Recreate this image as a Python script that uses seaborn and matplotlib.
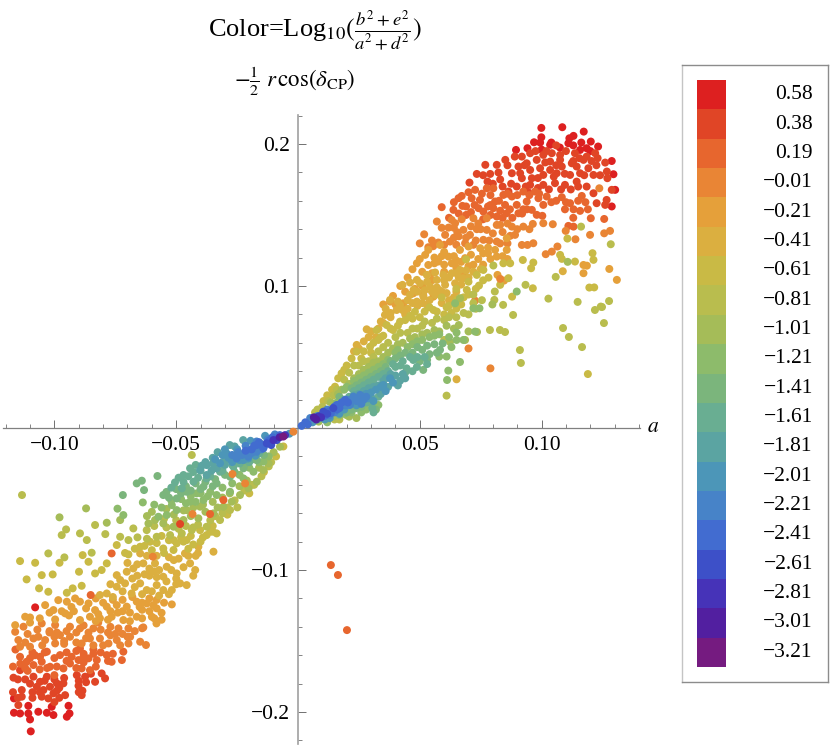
import matplotlib
matplotlib.use("Agg")
import matplotlib.pyplot as plt
import seaborn as sns
import pandas as pd
import numpy as np
from matplotlib.colors import ListedColormap
from matplotlib.ticker import FixedLocator, NullFormatter

band_labels = ["0.58", "0.38", "0.19", "\u22120.01", "\u22120.21", "\u22120.41", "\u22120.61", "\u22120.81", "\u22121.01", "\u22121.21",
               "\u22121.41", "\u22121.61", "\u22121.81", "\u22122.01", "\u22122.21", "\u22122.41", "\u22122.61", "\u22122.81", "\u22123.01", "\u22123.21"]
band_colors = ["#DD2020", "#E04526", "#E7662E", "#E98535", "#E5A03A", "#DBAF40", "#C9BA45", "#B9BD4E", "#A5BC58", "#8DBB6B",
               "#7BB57C", "#69AE92", "#5BA4A2", "#4C96B8", "#4783C8", "#426CD0", "#3D50C8", "#4633B8", "#521FA0", "#751B80"]

pts_058 = [(.0999,.2113),(.1085,.2118),(.1173,.2087),(.1131,.2057),(.1114,.204),(.0999,.2047),(.0969,.2012),(.0994,.201),(.1163,.201),(.1202,.2017),
 (.1232,.1982),(.0895,.1958),(.0942,.197),(.1035,.1994),(.111,.2005),(.1158,.1958),(.1185,.197),(.1288,.188),(.1295,.1787),(.1302,.1677),(.1288,.156),
 (.1040,.2010),(.1200,.1950),(.1130,.1990),(.1000,.1960),(.1075,.1975),
 (-.1097,-.2136),(-.1079,-.1263),(-.1166,-.1904),(-.0942,-.1956),(-.0938,-.2010),(-.0949,-.2033),(-.1107,-.1956),(-.1100,-.2052),(-.1166,-.2005),(-.1141,-.2010),
 (-.1107,-.2010),(-.1031,-.2005),(-.1004,-.2021),(-.1011,-.1963),(-.1066,-.1998)]
pts_038 = [(.0769,.1853),(.0816,.1853),(.0851,.1888),(.0890,.1911),(.0919,.1911),(.0953,.1935),(.1007,.1923),(.1042,.1935),(.1076,.1923),(.1137,.1935),
 (.1185,.1911),(.1220,.1935),(.1172,.1888),(.1124,.1864),(.1076,.1888),(.1035,.1876),(.0980,.1888),(.0939,.1864),(.0905,.1841),(.0878,.1794),(.0912,.1794),
 (.0953,.1817),(.0994,.1829),(.1035,.1817),(.1083,.1841),(.1144,.1841),(.1192,.1829),(.1213,.1782),(.1158,.1794),(.1117,.1782),(.1062,.1794),(.1007,.1782),
 (.0960,.1759),(.0919,.1759),(.1261,.1869),(.1268,.1806),(.1270,.1759),(.0734,.1789),(.0789,.1789),(.0823,.1799),(.0704,.1728),(.0778,.1735),(.1288,.1677),
 (.1267,.1606),(.1261,.1571),(.1226,.1583),(.1213,.1653),(.1185,.1700),(.1144,.1735),(.1096,.1712),(.1055,.1724),(.1007,.1712),(.0953,.1712),(.0898,.1700),(.0864,.1665),
 (.0830,.1750),(.0860,.1850),(.0875,.1720),(.0930,.1850),(.0935,.1700),(.0975,.1950),(.0985,.1760),(.1015,.1870),(.1020,.1950),(.1050,.1770),(.1060,.1850),(.1060,.1990),
 (.1095,.1790),(.1100,.1950),(.1130,.1880),(.1155,.1900),(.1175,.1780),(.1205,.1880),(.1225,.1850),(.1240,.1780),(.1230,.1900),(.1150,.1700),(.1120,.1680),(.1080,.1680),
 (.1030,.1680),(.0985,.1690),(.0945,.1660),(.0840,.1700),(.0760,.1780),(.0800,.1720),
 (-.1134,-.1845),(-.1134,-.1892),(-.1148,-.1951),(-.1072,-.1822),(-.1045,-.1845),(-.1052,-.1892),(-.1018,-.1822),(-.1004,-.1869),(-.1025,-.1904),(-.0956,-.1881),
 (-.0963,-.1798),(-.0990,-.1798),(-.0888,-.1881),(-.0901,-.1815),(-.1086,-.1751),(-.1031,-.1751),(-.1059,-.1787),(-.1141,-.1705),(-.1168,-.1758),(-.0908,-.1740),
 (-.0874,-.1751),(-.0833,-.1787),(-.0792,-.1763),(-.0806,-.1728),(-.0885,-.1850),(-.0990,-.1850),
 (-.1100,-.1800),(-.1090,-.1860),(-.1060,-.1860),(-.1040,-.1780),(-.1000,-.1770),(-.0980,-.1830),(-.0960,-.1760),(-.0900,-.1780),(-.0870,-.1790),(-.0900,-.1860),(-.0850,-.1730),
 (-.1120,-.1770),(-.1150,-.1770),(-.1170,-.1860),(-.1150,-.1900),(-.1090,-.1900),(-.1000,-.1930),(-.0980,-.1900)]
pts_019 = [(.0672,.1634),(.0659,.1618),(.0727,.1677),(.0713,.1618),(.0775,.1688),(.0802,.1688),(.0747,.1606),(.0809,.1595),(.0843,.1641),(.0878,.1630),(.0925,.1665),
 (.0973,.1665),(.1021,.1630),(.1083,.1625),(.1117,.1583),(.1165,.1634),(.1096,.1540),(.1131,.1540),(.1158,.1529),(.1190,.1540),(.0939,.1595),(.0987,.1618),(.1007,.1571),
 (.0898,.1571),(.0850,.1571),(.0802,.1548),(.0741,.1548),(.0675,.1564),(.0638,.1536),(.0590,.1555),(.0761,.1524),(.0857,.1512),(.0905,.1512),(.0960,.1536),(.0980,.1501),
 (.1003,.1494),(.0816,.1489),(.1257,.1472),(.1202,.1477),(.1131,.1418),(.1110,.1423),(.0690,.1500),(.0880,.1480),(.0780,.1560),(.0925,.1540),
 (.0690,.1560),(.0700,.1660),(.0755,.1650),(.0790,.1640),(.0825,.1600),(.0860,.1650),(.0900,.1640),(.0950,.1640),(.0990,.1650),(.1040,.1590),(.1060,.1600),(.1100,.1590),(.1150,.1600),
 (.0620,.1480),(.0660,.1510),(.0710,.1520),(.0725,.1570),(.0790,.1500),(.0830,.1530),(.0870,.1540),(.0920,.1510),(.0940,.1540),(.0790,.1570),(.0840,.1480),(.0760,.1470),(.0640,.1590),(.1130,.1480),(.1180,.1590),
 (-.1141,-.1611),(-.1114,-.1646),(-.1086,-.1669),(-.1052,-.1646),(-.1018,-.1681),(-.0963,-.1693),(-.0936,-.1658),(-.0929,-.1611),(-.0977,-.1599),(-.1031,-.1575),(-.1059,-.1611),
 (-.0888,-.1693),(-.0854,-.1705),(-.0901,-.1634),(-.0860,-.1622),(-.0826,-.1634),(-.0785,-.1599),(-.0765,-.1646),(-.0717,-.1575),(-.0723,-.1634),(-.0895,-.1552),(-.1120,-.1690),
 (-.1000,-.1740),(-.0880,-.1590),(-.0840,-.1560),(-.1090,-.1580),(.0135,-.0965),(.0164,-.1035),(.0201,-.1423),
 (-.1160,-.1560),(-.1100,-.1620),(-.1080,-.1600),(-.1040,-.1580),(-.1000,-.1620),(-.0950,-.1580),(-.0950,-.1640),(-.0910,-.1570),(-.0880,-.1610),(-.0840,-.1590),(-.0810,-.1580),
 (-.0780,-.1640),(-.0760,-.1590),(-.0830,-.1680),(-.0880,-.1650),(-.0910,-.1690),(-.0990,-.1680),(-.1030,-.1690),(-.1060,-.1700),(-.1110,-.1710),(-.1170,-.1680),(-.1140,-.1660)]
pts_m001 = [(.0570,.1454),(.0631,.1465),(.0672,.1470),(.0720,.1477),(.0775,.1477),(.0618,.1411),(.0645,.1442),(.0679,.1395),(.0734,.1400),(.0775,.1395),(.0816,.1430),
 (.0878,.1418),(.0925,.1418),(.0964,.1437),(.1007,.1442),(.1046,.1435),(.1099,.1388),(.1139,.1329),(.1199,.1360),(.1257,.1371),(.1281,.1388),(.0518,.1364),(.0604,.1360),
 (.0654,.1378),(.0706,.1360),(.0761,.1325),(.0535,.1273),(.0576,.1306),(.0624,.1313),(.0686,.1301),(.0816,.1313),(.0871,.1353),(.0891,.1360),(.0919,.1289),(.0942,.1289),
 (.0966,.1301),(.1065,.1278),(.1042,.1242),(.1017,.1224),(.1237,.1688),(.0727,.0897),(.0840,.1380),(.0740,.1440),
 (.0590,.1410),(.0640,.1410),(.0660,.1350),(.0710,.1420),(.0750,.1400),(.0800,.1370),(.0830,.1430),(.0860,.1440),(.0900,.1400),(.0950,.1400),(.0550,.1320),(.0600,.1290),(.0640,.1340),
 (.0690,.1340),(.0730,.1320),(.0785,.1320),(.0830,.1300),(.0860,.1300),(.0500,.1300),(.0555,.1280),(.0650,.1290),(.0720,.1290),
 (-.1141,-.1540),(-.1148,-.1493),(-.1086,-.1482),(-.1066,-.1470),(-.1038,-.1493),(-.0997,-.1517),(-.0977,-.1458),(-.0936,-.1470),(-.0888,-.1517),(-.0854,-.1482),(-.0813,-.1482),
 (-.0778,-.1517),(-.0744,-.1493),(-.0689,-.1470),(-.0696,-.1517),(-.0648,-.1505),(-.0624,-.1528),(-.1161,-.1435),(-.1127,-.1399),(-.1052,-.1376),(-.0997,-.1387),(-.0936,-.1399),
 (-.0895,-.1411),(-.0840,-.1411),(-.0737,-.1411),(-.0696,-.1411),(-.0635,-.1404),(-.0780,-.1440),(-.1020,-.1430),(-.0960,-.1500),(-.0820,-.1370),
 (-.1110,-.1450),(-.1070,-.1420),(-.1020,-.1440),(-.0990,-.1440),(-.0950,-.1430),(-.0910,-.1440),(-.0880,-.1390),(-.0860,-.1440),(-.0810,-.1420),(-.0770,-.1400),(-.0750,-.1450),(-.0720,-.1450),
 (-.0670,-.1430),(-.0640,-.1410),(-.1120,-.1510),(-.1050,-.1530),(-.1000,-.1470),(-.0960,-.1520),(-.0910,-.1510),(-.0870,-.1480),(-.0840,-.1530),(-.0800,-.1530),(-.0770,-.1460),(-.0730,-.1530),(-.0700,-.1470),(-.1100,-.1540)]
pts_m021 = [(.0535,.1254),(.0522,.1219),(.0583,.1289),(.0618,.1207),(.0665,.1254),(.0700,.1278),(.0748,.1266),(.0857,.1336),(.0809,.1254),(.0488,.1160),(.0470,.1118),(.0535,.1148),
 (.0576,.1172),(.0631,.1160),(.0686,.1196),(.0740,.1190),(.0816,.1207),(.0857,.1254),(.0780,.1230),(.0600,.1240),(.0560,.1200),(.0650,.1130),(.0720,.1150),(.0819,.1078),(.0846,.1038),
 (.1309,.1043),(.1278,.1120),(.1172,.1090),(.1172,.1148),(.1186,.1143),(.0473,.0948),(.0514,.0937),(.0556,.0925),(.0378,.0890),(.0432,.0878),(.0510,.1000),(.0600,.1100),(.0680,.1090),
 (.0500,.1190),(.0560,.1160),(.0590,.1210),(.0640,.1210),(.0670,.1170),(.0710,.1220),(.0760,.1230),(.0790,.1190),(.0840,.1210),(.0860,.1190),(.0550,.1090),(.0450,.1060),(.0510,.1100),
 (.0600,.1150),(.0650,.1180),(.0700,.1140),(.0760,.1150),(.0420,.1000),(.0440,.0960),(.0390,.0930),(.0350,.0870),(.0400,.0870),(.0480,.0980),(.0550,.1040),(.0780,.1270),
 (-.1161,-.1388),(-.1120,-.1329),(-.1100,-.1334),(-.0997,-.1348),(-.0956,-.1305),(-.0895,-.1352),(-.0854,-.1329),(-.0813,-.1340),(-.0765,-.1329),(-.0717,-.1352),(-.0662,-.1329),
 (-.0600,-.1329),(-.0581,-.1376),(-.0560,-.1301),(-.0518,-.1242),(-.0915,-.1200),(-.0895,-.1223),(-.0860,-.1235),(-.0833,-.1282),(-.0785,-.1258),(-.0744,-.1247),(-.0703,-.1258),
 (-.0662,-.1223),(-.0621,-.1235),(-.0594,-.1247),(-.1038,-.1247),(-.1004,-.1282),(-.0949,-.1223),(-.0984,-.1212),(-.0920,-.1290),(-.0720,-.1290),(-.0640,-.1280),(-.0580,-.1210),
 (-.0760,-.1210),(-.0720,-.1210),(-.0680,-.1190),(-.0640,-.1230),(-.0610,-.1200),(-.0580,-.1270),(-.0550,-.1230),(-.0830,-.1200),(-.0800,-.1230),(-.0870,-.1270),(-.0820,-.1310),(-.0770,-.1290),
 (-.0740,-.1300),(-.0690,-.1300),(-.0650,-.1260),(-.0610,-.1290),(-.0560,-.1350),(-.0930,-.1260),(-.0970,-.1290),(-.1020,-.1300),(-.1060,-.1340),(-.0940,-.1320),(-.0780,-.1350),(-.0690,-.1360),
 (-.0640,-.1340),(-.0590,-.1340),(-.0830,-.1360),(-.1100,-.1370)]
pts_m041 = [(.0474,.0972),(.0515,.0925),(.0542,.0996),(.0501,.1019),(.0460,.0937),(.0488,.0890),(.0529,.0867),(.0378,.0902),(.0419,.0867),(.0570,.1043),(.0597,.1078),(.0631,.1090),(.0665,.1113),
 (.0563,.0937),(.0604,.1008),(.0645,.1019),(.0679,.1055),(.0429,.1008),(.0460,.1024),(.0488,.1043),(.0529,.1078),(.0563,.1095),(.1087,.1104),(.0357,.0796),(.0405,.0831),(.0282,.0695),
 (.0241,.0585),(.0320,.0640),(.0651,.0343),(.0440,.0800),(.0380,.0780),(.0470,.0880),(.0580,.0970),(.0330,.0700),(.0270,.0610),(.0230,.0540),(.0650,.0960),(.0620,.0900),(.0590,.0880),
 (.0340,.0750),(.0300,.0680),(.0360,.0840),(.0380,.0810),(.0410,.0890),(.0450,.0900),(.0490,.0960),(.0520,.0970),(.0530,.1030),(.0570,.0990),(.0600,.1040),(.0620,.1060),(.0660,.1060),
 (.0650,.1090),(.0690,.1110),(.0720,.1100),(.0700,.1060),(.0610,.0950),(.0640,.0920),(.0670,.1010),(.0550,.0960),(.0510,.0880),(.0450,.0840),(.0250,.0560),(.0290,.0640),(.0350,.0740),
 (.0540,.0900),(.0590,.0960),(.0490,.0860),(.0430,.0830),(.0750,.1120),
 (-.0744,-.1118),(-.0710,-.1094),(-.0683,-.1165),(-.0648,-.1094),(-.0621,-.1141),(-.0580,-.1106),(-.0553,-.1141),(-.0518,-.1141),(-.0676,-.0989),(-.0635,-.0953),(-.0587,-.0953),(-.0539,-.0977),
 (-.0553,-.1047),(-.0484,-.1094),(-.0457,-.1106),(-.0498,-.1024),(-.0443,-.0953),(-.0422,-.1000),(-.0744,-.1036),(-.0703,-.1012),(-.0648,-.0883),(-.0347,-.0871),(-.0409,-.0836),(-.0464,-.0883),
 (-.0785,-.1165),(-.0813,-.1176),(-.0610,-.1040),(-.0660,-.1040),(-.0510,-.0930),(-.0590,-.1010),(-.0420,-.0900),(-.0760,-.1190),
 (-.0620,-.0900),(-.0580,-.0900),(-.0530,-.0910),(-.0490,-.0920),(-.0450,-.0900),(-.0410,-.0880),(-.0700,-.0950),(-.0660,-.0960),(-.0610,-.0990),(-.0570,-.1000),(-.0520,-.1000),(-.0470,-.0980),
 (-.0430,-.1040),(-.0680,-.1060),(-.0630,-.1030),(-.0580,-.1050),(-.0540,-.1080),(-.0500,-.1060),(-.0730,-.1070),(-.0670,-.1120),(-.0600,-.1150),(-.0570,-.1180),(-.0530,-.1170),(-.0720,-.1150),
 (-.0640,-.1170),(-.0770,-.1100),(-.0500,-.1100)]
pts_m061 = [(.0323,.0690),(.0364,.0725),(.0419,.0749),(.0480,.0819),(.0556,.0831),(.0650,.0840),(.0241,.0538),(.0296,.0573),(.0330,.0620),(.0179,.0385),(.0152,.0291),(.0200,.0440),(.0260,.0490),
 (.0300,.0530),(.0340,.0640),(.0390,.0690),(.0440,.0760),(.0500,.0780),(.0600,.0800),(.1190,.0380),(.0923,.1183),(.0957,.1125),(.0966,.1165),(.1076,.1219),(.1083,.1191),(.1137,.1172),(.1209,.1231),
 (.1213,.1184),(.1106,.1334),(.1196,.0989),(.0843,.1160),(.0871,.1160),(.0830,.1008),(.0864,.1055),(.0743,.1003),(.0782,.1059),(.0761,.1113),(.0734,.1078),(.0693,.0972),(.0690,.1188),(.0964,.0984),(.0879,.0925),
 (.0650,.0980),(.0590,.0920),(.0700,.1030),(.0620,.0860),(.1216,.0990),
 (.0270,.0540),(.0310,.0600),(.0350,.0650),(.0380,.0700),(.0410,.0720),(.0460,.0790),(.0470,.0770),(.0520,.0820),(.0540,.0850),(.0570,.0820),(.0610,.0850),(.0630,.0810),(.0670,.0870),(.0700,.0940),
 (.0730,.0980),(.0680,.0920),(.0650,.0900),(.0760,.1040),(.0220,.0490),(.0190,.0410),(.0165,.0350),(.0140,.0270),(.0120,.0230),(.0105,.0190),
 (-.1141,-.0937),(-.1079,-.0949),(-.1114,-.1066),(-.1063,-.1129),(-.1025,-.1153),(-.1052,-.1036),(-.1007,-.1031),(-.0949,-.1160),(-.0925,-.1129),(-.0888,-.1111),(-.0833,-.1024),(-.0806,-.1000),(-.0785,-.0953),
 (-.0979,-.0949),(-.0899,-.1012),(-.0884,-.0895),(-.0860,-.0942),(-.0648,-.0836),(-.0607,-.0801),(-.0553,-.0848),(-.0511,-.0859),(-.0498,-.0812),(-.0457,-.0789),(-.0334,-.0742),(-.0375,-.0754),(-.0402,-.0719),
 (-.0744,-.0824),(-.0696,-.0890),(-.0430,-.0820),(-.0350,-.0690),(-.0290,-.0610),(-.0200,-.0460),(-.0140,-.0310),(-.0060,-.0130),(-.0090,-.0200),
 (-.0580,-.0810),(-.0530,-.0790),(-.0480,-.0770),(-.0440,-.0760),(-.0390,-.0770),(-.0360,-.0730),(-.0560,-.0760),(-.0510,-.0790),(-.0470,-.0800),(-.0630,-.0830),(-.0670,-.0850),(-.0600,-.0860),(-.0550,-.0880),
 (-.0350,-.0730),(-.0400,-.0800),(-.0450,-.0850),(-.0710,-.0880)]
pts_m081 = [(.0146,.0230),(.0190,.0340),(.0230,.0440),(.0270,.0470),(.0310,.0500),(.0350,.0570),(.0400,.0640),(.0450,.0670),(.0490,.0700),(.0550,.0740),(.0600,.0760),(.0650,.0780),(.0700,.0800),(.0730,.0840),(.0600,.0620),
 (.0100,.0150),(.0070,.0110),(.0125,.0190),(.0610,.0228),(.0915,.0458),(.0911,.0549),(.1112,.0641),(.1088,.0704),(.1166,.0570),(.1256,.0739),(.1219,.0831),(.1248,.0852),(.1277,.0894),(.1284,.1294),(.1162,.1418),
 (.1058,.1064),(.1028,.0911),(.1148,.0888),(.1243,.0855),(.0806,.0902),(.0842,.0867),(.0808,.0961),(.0934,.1008),(.0802,.1144),(.0883,.0796),(.0850,.0676),(.0829,.0690),(.0788,.0690),(.0720,.0940),
 (.0210,.0390),(.0250,.0440),(.0290,.0470),(.0330,.0540),(.0370,.0600),(.0420,.0670),(.0470,.0700),(.0520,.0750),(.0570,.0770),(.0620,.0780),(.0680,.0810),(.0720,.0880),(.0755,.0900),(.0510,.0720),(.0160,.0270),
 (.0080,.0130),(.0090,.0060),(.0170,.0060),(.0200,.0090),(.0150,.0060),
 (-.1133,-.0472),(-.0970,-.0754),(-.0952,-.0714),(-.0895,-.0742),(-.0867,-.0789),(-.1025,-.0883),(-.0959,-.0911),(-.0847,-.0878),(-.0791,-.0747),(-.0730,-.0766),(-.0696,-.0789),(-.0659,-.0770),(-.0621,-.0719),
 (-.0580,-.0766),(-.0525,-.0754),(-.0477,-.0742),(-.0436,-.0719),(-.0375,-.0695),(-.0320,-.0648),(-.0279,-.0578),(-.0249,-.0559),(-.0676,-.0707),(-.0833,-.0683),(-.0436,-.0190),(-.0180,-.0400),(-.0120,-.0270),
 (-.0590,-.0690),(-.0550,-.0640),(-.0500,-.0650),(-.0460,-.0690),(-.0410,-.0680),(-.0360,-.0650),(-.0310,-.0600),(-.0260,-.0510),(-.0220,-.0440),(-.0190,-.0400),(-.0150,-.0340),(-.0110,-.0240),(-.0540,-.0700),
 (-.0490,-.0710),(-.0430,-.0700),(-.0340,-.0620),(-.0290,-.0560),(-.0620,-.0780)]
pts_m101 = [(.0135,.0180),(.0165,.0240),(.0210,.0310),(.0250,.0380),(.0290,.0430),(.0330,.0470),(.0370,.0530),(.0410,.0590),(.0460,.0630),(.0510,.0660),(.0560,.0690),(.0610,.0720),(.0660,.0725),(.0145,.0080),(.0120,.0060),
 (.0085,.0045),(.1107,.1170),(.0735,.0676),(.0624,.0606),(.0686,.0620),(.0665,.0914),(.0798,.0870),
 (.0230,.0350),(.0270,.0410),(.0310,.0460),(.0350,.0500),(.0390,.0560),(.0430,.0600),(.0480,.0640),(.0530,.0670),(.0580,.0680),(.0640,.0700),(.0700,.0680),(.0115,.0120),(.0180,.0270),(.0240,.0070),(.0210,.0080),
 (-.0979,-.0629),(-.0870,-.0566),(-.0785,-.0667),(-.0730,-.0648),(-.0614,-.0672),(-.0587,-.0648),(-.0553,-.0672),(-.0511,-.0695),(-.0470,-.0648),(-.0409,-.0636),(-.0347,-.0601),(-.0402,-.0554),(-.0457,-.0578),
 (-.0306,-.0554),(-.0272,-.0519),(-.0238,-.0472),(-.0203,-.0425),(-.0169,-.0378),(-.0142,-.0296),(-.0121,-.0249),(-.0074,-.0132),
 (-.0600,-.0590),(-.0540,-.0570),(-.0510,-.0610),(-.0470,-.0580),(-.0430,-.0560),(-.0390,-.0540),(-.0350,-.0520),(-.0310,-.0490),(-.0280,-.0460),(-.0240,-.0410),(-.0210,-.0370),(-.0160,-.0280),(-.0130,-.0230),
 (-.0100,-.0170),(-.0440,-.0620),(-.0380,-.0590),(-.0330,-.0560),(-.0620,-.0620)]
pts_m121 = [(.0190,.0270),(.0230,.0330),(.0270,.0370),(.0310,.0410),(.0350,.0450),(.0400,.0530),(.0450,.0570),(.0490,.0610),(.0540,.0640),(.0580,.0660),(.0651,.0672),(.0610,.0503),(.0580,.0503),(.0727,.0679),(.0651,.0620),
 (.0679,.0620),(.0170,.0090),(.0120,.0040),(.0617,.0404),(.0330,.0162),(.0612,.0338),(.0665,.0465),(.0645,.0878),(.0720,.0843),(.0745,.0843),(.0898,.0961),
 (.0250,.0350),(.0290,.0390),(.0330,.0430),(.0370,.0480),(.0410,.0550),(.0470,.0590),(.0510,.0620),(.0560,.0650),(.0620,.0640),(.0630,.0570),(.0200,.0290),(.0160,.0180),(.0190,.0100),(.0220,.0110),(.0280,.0130),(.0260,.0110),
 (-.0741,-.0568),(-.0717,-.0613),(-.0637,-.0524),(-.0573,-.0625),(-.0539,-.0613),(-.0498,-.0578),(-.0443,-.0519),(-.0388,-.0507),(-.0334,-.0472),(-.0279,-.0449),(-.0224,-.0355),(-.0183,-.0308),(-.0142,-.0237),(-.0518,-.0543),(-.0416,-.0460),
 (-.0520,-.0510),(-.0480,-.0500),(-.0440,-.0480),(-.0400,-.0460),(-.0360,-.0450),(-.0310,-.0420),(-.0270,-.0390),(-.0240,-.0330),(-.0200,-.0280),(-.0160,-.0240),(-.0120,-.0200),(-.0560,-.0560),(-.0590,-.0540),(-.0460,-.0530),(-.0420,-.0520),(-.0370,-.0480)]
pts_m141 = [(.0220,.0280),(.0260,.0320),(.0300,.0360),(.0340,.0400),(.0380,.0470),(.0420,.0510),(.0470,.0530),(.0510,.0550),(.0540,.0520),(.0583,.0550),(.0594,.0596),(.0514,.0409),(.0200,.0110),(.0240,.0140),
 (.0240,.0300),(.0280,.0340),(.0320,.0380),(.0360,.0430),(.0400,.0490),(.0440,.0530),(.0490,.0570),(.0530,.0580),(.0560,.0590),(.0570,.0530),(.0530,.0480),(.0500,.0470),(.0180,.0130),(.0220,.0130),(.0260,.0150),(.0320,.0130),(.0300,.0170),(.0170,.0220),
 (-.0719,-.0472),(-.0632,-.0437),(-.0577,-.0338),(-.0641,-.0371),(-.0662,-.0390),(-.0553,-.0472),(-.0498,-.0496),(-.0457,-.0449),(-.0388,-.0413),(-.0334,-.0390),(-.0279,-.0343),(-.0224,-.0284),(-.0169,-.0226),
 (-.0500,-.0430),(-.0460,-.0410),(-.0420,-.0390),(-.0380,-.0380),(-.0340,-.0360),(-.0300,-.0330),(-.0260,-.0310),(-.0220,-.0260),(-.0180,-.0220),(-.0540,-.0450),(-.0480,-.0460),(-.0440,-.0440),(-.0400,-.0430),(-.0350,-.0410),(-.0140,-.0190),(-.0530,-.0490)]
pts_m161 = [(.0210,.0220),(.0250,.0280),(.0290,.0320),(.0330,.0360),(.0370,.0400),(.0400,.0430),(.0446,.0420),(.0473,.0479),(.0530,.0450),(.0488,.0430),(.0280,.0180),(.0305,.0140),(.0310,.0110),
 (.0230,.0260),(.0270,.0300),(.0310,.0340),(.0350,.0380),(.0390,.0450),(.0430,.0470),(.0460,.0500),(.0490,.0500),(.0520,.0500),(.0440,.0390),(.0470,.0400),(.0420,.0440),(.0300,.0190),(.0330,.0220),(.0240,.0170),(.0190,.0200),
 (-.0505,-.0383),(-.0470,-.0331),(-.0443,-.0284),(-.0477,-.0425),(-.0429,-.0378),(-.0375,-.0355),(-.0320,-.0308),(-.0265,-.0273),(-.0210,-.0179),(-.0183,-.0143),(-.0156,-.0108),
 (-.0420,-.0260),(-.0400,-.0300),(-.0430,-.0310),(-.0410,-.0350),(-.0360,-.0340),(-.0310,-.0300),(-.0270,-.0260),(-.0470,-.0380),(-.0490,-.0350),(-.0450,-.0340),(-.0240,-.0250),(-.0200,-.0240),(-.0160,-.0180),(-.0520,-.0420)]
pts_m181 = [(.0230,.0230),(.0270,.0260),(.0310,.0290),(.0350,.0330),(.0380,.0380),(.0419,.0333),(.0430,.0380),(.0080,.0060),(.0050,.0050),
 (.0250,.0240),(.0290,.0280),(.0330,.0300),(.0360,.0350),(.0400,.0370),(.0410,.0300),(.0440,.0350),(.0300,.0220),(.0340,.0240),(.0370,.0290),(.0180,.0180),
 (-.0402,-.0296),(-.0375,-.0261),(-.0334,-.0284),(-.0375,-.0331),(-.0293,-.0226),(-.0238,-.0190),(-.0200,-.0160),
 (-.0350,-.0210),(-.0310,-.0240),(-.0350,-.0250),(-.0380,-.0240),(-.0395,-.0265),(-.0355,-.0300),(-.0300,-.0260),(-.0260,-.0130),(-.0330,-.0170),(-.0225,-.0085),(-.0280,-.0120)]
pts_m201 = [(.0200,.0160),(.0240,.0210),(.0280,.0240),(.0320,.0270),(.0350,.0303),(.0378,.0350),(.0289,.0209),(.0100,.0090),(.0060,.0040),(.0170,.0100),
 (.0220,.0190),(.0260,.0220),(.0300,.0250),(.0340,.0290),(.0360,.0260),(.0390,.0320),(.0310,.0190),(.0240,.0160),(.0190,.0130),(.0130,.0070),(.0110,.0060),(.0080,.0085),
 (-.0293,-.0179),(-.0265,-.0214),(-.0320,-.0249),(-.0224,-.0226),(-.0035,-.0040),
 (-.0250,-.0150),(-.0300,-.0150),(-.0285,-.0210),(-.0340,-.0220),(-.0270,-.0240),(-.0240,-.0225),(-.0205,-.0215),(-.0175,-.0195),(-.0310,-.0190),(-.0195,-.0090),(-.0135,-.0055)]
pts_m221 = [(.0175,.0170),(.0215,.0195),(.0255,.0233),(.0227,.0221),(.0270,.0200),(.0213,.0162),(.0260,.0170),(.0120,.0130),
 (.0190,.0180),(.0200,.0200),(.0235,.0205),(.0280,.0220),(.0240,.0190),(.0195,.0160),(.0150,.0110),(.0130,.0090),(.0050,.0070),
 (-.0252,-.0214),(-.0204,-.0202),(-.0169,-.0167),(-.0140,-.0130),
 (-.0230,-.0190),(-.0190,-.0175),(-.0245,-.0170),(-.0215,-.0125),(-.0270,-.0190),(-.0150,-.0150),(-.0170,-.0095),(-.0125,-.0080),(-.0095,-.0045)]
pts_m241 = [(.0140,.0130),(.0159,.0162),(.0193,.0197),(.0125,.0115),(.0170,.0140),(.0030,.0040),(.0015,.0015),(-.0142,-.0143),(-.0120,-.0090),(-.0170,-.0120),
 (.0150,.0150),(.0180,.0180),(.0205,.0180),(.0160,.0130),(.0110,.0085),(.0040,.0025),(.0135,.0105),
 (-.0160,-.0100),(-.0190,-.0150),(-.0130,-.0110),(-.0105,-.0065),(-.0215,-.0160),(-.0155,-.0115),(-.0075,-.0050),(-.0180,-.0125)]
pts_m261 = [(.0104,.0115),(.0120,.0100),(.0145,.0140),(.0090,.0085),(-.0128,-.0108),(-.0087,-.0085),(-.0110,-.0120)]
pts_m281 = [(.0083,.0080),(.0095,.0075),(.0070,.0068),(-.0101,-.0085),(-.0053,-.0050)]
pts_m301 = [(.0075,.0060),(.0065,.0075),(-.0075,-.0065)]
pts_m321 = [(-.0060,-.0060)]

late_a = [.0830,.0700,.0790,-.0596,-.0433,-.0765,-.0484,-.0361,-.0269,-.0306,-.0217,-.0851,-.0019]
late_r = [.1050,.0560,.0420,-.0906,-.0606,-.0883,-.0676,-.0606,-.0324,-.0507,-.0390,-.1176,-.0026]
late_c = [3,3,3,3,3,2,1,2,3,2,3,2,3]

band_points = [pts_058, pts_038, pts_019, pts_m001, pts_m021, pts_m041, pts_m061, pts_m081, pts_m101, pts_m121,
               pts_m141, pts_m161, pts_m181, pts_m201, pts_m221, pts_m241, pts_m261, pts_m281, pts_m301, pts_m321]

x_major = [-0.10, -0.05, 0.05, 0.10]
x_major_labels = ["\u22120.10", "\u22120.05", "0.05", "0.10"]
y_major = [-0.2, -0.1, 0.1, 0.2]
y_major_labels = ["\u22120.2", "\u22120.1", "0.1", "0.2"]

sns.set_style("white")
plt.rcParams["font.family"] = ["Liberation Serif", "DejaVu Serif"]
plt.rcParams["mathtext.fontset"] = "stix"

W, H = 830, 747
fig = plt.figure(figsize=(W / 100, H / 100), dpi=100)
fig.patch.set_facecolor("white")


def rect(x0, y0, x1, y1):
    return [x0 / W, 1 - y1 / H, (x1 - x0) / W, (y1 - y0) / H]


ax = fig.add_axes(rect(3, 115, 640, 744))
ax.patch.set_alpha(0)

rows = [(a, r, i) for i, pts in enumerate(band_points) for a, r in pts]
df = pd.DataFrame(rows, columns=["a", "r", "band"])
late = pd.DataFrame({"a": late_a, "r": late_r, "band": late_c})
palette = {i: c for i, c in enumerate(band_colors)}
sns.scatterplot(data=df, x="a", y="r", hue="band", palette=palette, legend=False, s=33, linewidth=0, ax=ax, clip_on=False, zorder=3)
sns.scatterplot(data=late, x="a", y="r", hue="band", palette=palette, legend=False, s=33, linewidth=0, ax=ax, clip_on=False, zorder=3.1)

ax.set_xlim(-0.1211, 0.1404)
ax.set_ylim(-0.2225, 0.2204)
ax.set_xlabel("")
ax.set_ylabel("")
for s in ["top", "right"]:
    ax.spines[s].set_visible(False)
ax.spines["bottom"].set_position(("data", 0))
ax.spines["left"].set_position(("data", 0))
ax.spines["bottom"].set_color("#808080")
ax.spines["left"].set_color("#a0a0a0")
ax.spines["bottom"].set_linewidth(0.9)
ax.spines["left"].set_linewidth(1.2)
ax.set_xticks(x_major, x_major_labels)
ax.set_yticks(y_major, y_major_labels)
x_minor = [v / 100 for v in range(-12, 15) if v % 5 != 0]
y_minor = [v / 100 for v in range(-22, 23, 2) if v % 10 != 0]
ax.xaxis.set_minor_locator(FixedLocator(x_minor))
ax.yaxis.set_minor_locator(FixedLocator(y_minor))
ax.xaxis.set_minor_formatter(NullFormatter())
ax.yaxis.set_minor_formatter(NullFormatter())
ax.tick_params(which="major", direction="in", length=6, width=0.7, color="#707070", labelsize=15.5, labelcolor="black", bottom=True, left=True)
ax.tick_params(which="minor", direction="in", length=3.2, width=0.6, color="#707070", bottom=True, left=True)
ax.tick_params(axis="x", which="major", pad=6)
ax.tick_params(axis="y", which="major", pad=6)

fig.text(653.5 / W, 1 - 427 / H, "$a$", fontsize=15.5, ha="center", va="center", color="black")
fig.text(295 / W, 1 - 81 / H, r"$-\frac{1}{2}\ r\,\cos(\delta_{\mathrm{CP}})$", fontsize=16.5, ha="center", va="center", color="black")
fig.text(315 / W, 1 - 31 / H, r"Color=Log$_{10}(\frac{b^2+e^2}{a^2+d^2})$", fontsize=19, ha="center", va="center", color="black")

box = fig.add_axes(rect(682, 65, 828, 682))
box.set_xticks([])
box.set_yticks([])
box.set_facecolor("white")
for s in box.spines.values():
    s.set_color("#8c8c8c")
    s.set_linewidth(1.0)
box.spines["left"].set_color("#c4c4c4")

leg = fig.add_axes(rect(697, 80, 726, 667))
matrix = np.arange(len(band_labels)).reshape(-1, 1)
sns.heatmap(matrix, cmap=ListedColormap(band_colors), cbar=False, ax=leg, xticklabels=False, yticklabels=band_labels, linewidths=0, rasterized=True)
leg.yaxis.tick_right()
leg.tick_params(axis="y", length=0, pad=62.5, labelsize=15.5, labelcolor="black")
plt.setp(leg.get_yticklabels(), rotation=0, ha="right", va="center")

fig.savefig("out.png", dpi=100)
